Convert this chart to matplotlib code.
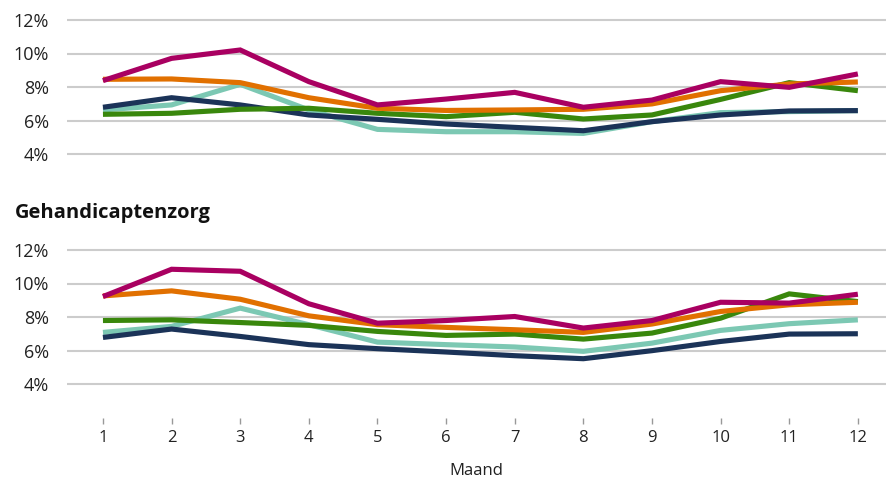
import matplotlib
matplotlib.use('Agg')
import matplotlib.pyplot as plt
from matplotlib.ticker import FuncFormatter

plt.rcParams['font.family'] = ['Open Sans', 'DejaVu Sans']

months = list(range(1, 13))
series_names = ['magenta', 'oranje', 'groen', 'mint', 'donkerblauw']
colors = ['#A90061', '#E17000', '#39870C', '#7CC8B3', '#1B3358']

# bovenste paneel (in %)
top_magenta = [8.38, 9.71, 10.21, 8.32, 6.93, 7.28, 7.68, 6.79, 7.22, 8.32, 7.98, 8.78]
top_oranje = [8.46, 8.48, 8.26, 7.36, 6.73, 6.60, 6.63, 6.67, 6.99, 7.78, 8.18, 8.30]
top_groen = [6.37, 6.43, 6.67, 6.73, 6.43, 6.23, 6.49, 6.09, 6.33, 7.26, 8.26, 7.78]
top_mint = [6.63, 6.93, 8.16, 6.63, 5.47, 5.33, 5.33, 5.23, 5.93, 6.47, 6.53, 6.59]
top_blauw = [6.79, 7.36, 6.93, 6.33, 6.07, 5.79, 5.59, 5.39, 5.93, 6.33, 6.57, 6.59]

# gehandicaptenzorg (in %)
gz_magenta = [9.22, 10.85, 10.73, 8.79, 7.63, 7.79, 8.03, 7.34, 7.79, 8.88, 8.83, 9.36]
gz_oranje = [9.26, 9.56, 9.06, 8.07, 7.54, 7.38, 7.24, 7.08, 7.58, 8.33, 8.73, 8.88]
gz_groen = [7.79, 7.83, 7.67, 7.50, 7.14, 6.90, 6.98, 6.68, 7.04, 7.93, 9.38, 8.92]
gz_mint = [7.08, 7.44, 8.53, 7.54, 6.50, 6.35, 6.21, 5.95, 6.44, 7.20, 7.60, 7.83]
gz_blauw = [6.78, 7.28, 6.84, 6.35, 6.11, 5.91, 5.69, 5.51, 5.99, 6.54, 6.98, 7.00]

yticks = [4, 6, 8, 10, 12]

W, H = 886, 483
fig = plt.figure(figsize=(W / 100, H / 100), dpi=100)

def px_axes(x0, x1, y_top, y_bot):
    return fig.add_axes([x0 / W, 1 - y_bot / H, (x1 - x0) / W, (y_bot - y_top) / H])

ax1 = px_axes(67, 886, 16.65, 157.35)
ax2 = px_axes(67, 886, 246.65, 417.5)

panels = [
    (ax1, [top_magenta, top_oranje, top_groen, top_mint, top_blauw], (3.8, 12.2)),
    (ax2, [gz_magenta, gz_oranje, gz_groen, gz_mint, gz_blauw], (2.0, 12.2)),
]

for ax, data, ylim in panels:
    # mint en blauw onderop
    for idx in [3, 4, 2, 1, 0]:
        ax.plot(months, data[idx], color=colors[idx], lw=3.7, solid_joinstyle='miter',
                solid_capstyle='butt', zorder=3)
    ax.set_xlim(0.476, 12.41)
    ax.set_ylim(*ylim)
    ax.set_yticks(yticks)
    ax.yaxis.set_major_formatter(FuncFormatter(lambda v, p: f'{int(v)}%'))
    ax.grid(axis='y', color='#CCCCCC', lw=1.5, zorder=1)
    for s in ax.spines.values():
        s.set_visible(False)
    ax.tick_params(axis='y', length=0, pad=13, labelsize=13, labelcolor='#222222')

ax1.set_xticks([])
ax2.set_xticks(months)
ax2.tick_params(axis='x', length=4, width=1, color='#999999', pad=5,
                labelsize=12, labelcolor='#222222')
ax2.set_xlabel('Maand', fontsize=12, color='#222222', labelpad=12)

fig.text(15 / W, 1 - 213 / H, 'Gehandicaptenzorg', fontsize=14.5, fontweight='bold',
         color='#111111', va='center', ha='left')

fig.savefig('out.png', dpi=100)
